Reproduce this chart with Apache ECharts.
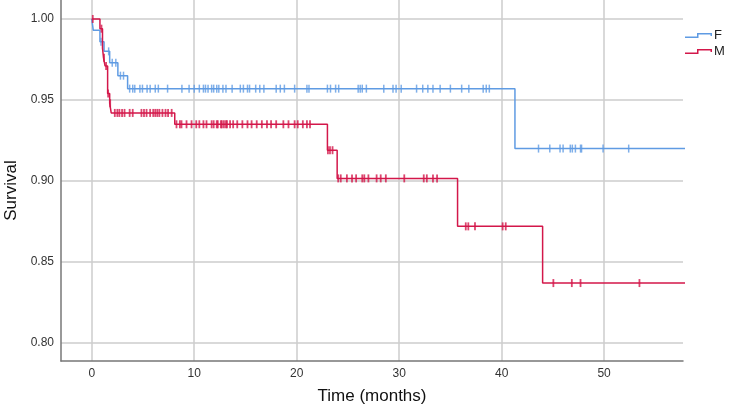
<!DOCTYPE html>
<html>
<head>
<meta charset="utf-8">
<script src="https://cdn.jsdelivr.net/npm/echarts@6/dist/echarts.min.js"></script>
<style>
html,body{margin:0;padding:0;background:#fff;}
#chart{width:731px;height:408px;}
</style>
</head>
<body>
<div id="chart"></div>
<script>
// ---- Data ----
var groupNames = ['F', 'M'];

// Step function of survival for F: times (months) and survival after each step
var fTimes = [0, 0.15, 0.8, 1.2, 1.75, 2.55, 3.5, 41.3, 58];
var fSurv  = [1.000, 0.993, 0.986, 0.980, 0.973, 0.965, 0.957, 0.920, 0.920];
// Censored observation times for F
var fCensor = [0.9, 1.65, 2.0, 2.35, 2.8, 3.1, 3.7, 4.0, 4.2, 4.7, 4.95, 5.4, 5.7, 6.2, 6.5, 7.4,
  8.8, 9.5, 10.0, 10.5, 10.9, 11.1, 11.35, 11.7, 11.9, 12.2, 12.4, 12.8, 13.1, 13.7, 14.5, 14.8,
  15.2, 15.4, 16.0, 16.4, 16.8, 18.0, 18.4, 18.8, 19.8, 21.0, 21.2, 23.0, 23.3, 23.8, 24.1,
  26.0, 26.2, 26.4, 26.8, 28.5, 29.4, 29.7, 30.2, 31.7, 32.3, 32.8, 33.3, 34.0, 35.0, 36.1,
  36.8, 38.2, 38.5, 38.8, 43.6, 44.7, 45.7, 46.0, 46.7, 46.9, 47.2, 47.7, 47.8, 49.9, 52.4];

// Step function of survival for M
var mTimes = [0, 0.8, 1.05, 1.15, 1.3, 1.55, 1.75, 1.9, 8.1, 23.0, 23.95, 35.7, 44.0, 58];
var mSurv  = [1.000, 0.994, 0.982, 0.976, 0.971, 0.954, 0.948, 0.942, 0.935, 0.919, 0.9016, 0.872, 0.837, 0.837];
// Censored observation times for M
var mCensor = [0.1, 0.95, 1.2, 1.4, 1.6, 1.8, 2.25, 2.5, 2.7, 2.96, 3.2, 3.7, 4.0, 4.85, 5.1, 5.35,
  5.7, 6.0, 6.2, 6.4, 6.6, 6.9, 7.2, 7.45, 7.8, 8.27, 8.6, 8.76, 9.25, 9.74, 10.2, 10.5, 10.9,
  11.2, 11.7, 11.9, 12.2, 12.3, 12.6, 12.7, 12.9, 13.1, 13.2, 13.5, 13.8, 14.2, 14.7, 15.2,
  15.6, 16.1, 16.6, 17.1, 17.5, 18.0, 18.7, 19.2, 19.8, 20.1, 20.6, 21.0, 21.3, 23.05, 23.25,
  23.5, 24.05, 24.3, 24.9, 25.4, 25.8, 26.4, 26.6, 27.0, 27.8, 28.2, 28.7, 30.5, 32.4, 32.7,
  33.3, 33.7, 36.5, 36.75, 37.4, 40.1, 40.4, 45.05, 46.85, 47.7, 53.45];

// Axis ticks
var xTicks = [0, 10, 20, 30, 40, 50];
var yTicks = [0.80, 0.85, 0.90, 0.95, 1.00];

// ---- Build series data ----
function pairs(ts, ss) { return ts.map(function (t, i) { return [t, ss[i]]; }); }
function survAt(ts, ss, t) {
  var v = ss[0];
  for (var i = 0; i < ts.length; i++) { if (ts[i] <= t) v = ss[i]; }
  return v;
}
function censorPts(cs, ts, ss) { return cs.map(function (t) { return [t, survAt(ts, ss, t)]; }); }

var blue = '#5f9be3';
var red = '#d3174a';
var font = 'Liberation Sans, Arial, sans-serif';

var stepIcon = 'path://M0,3.5 L12,3.5 L12,0 L27,0 L27,3 L25.5,3 L25.5,1.5 L13.5,1.5 L13.5,5 L0,5 Z';

var chart = echarts.init(document.getElementById('chart'), null, { renderer: 'canvas' });
chart.setOption({
  animation: false,
  backgroundColor: '#fff',
  color: [blue, red],
  grid: { left: 61, right: 48, top: 0, bottom: 47, containLabel: false, outerBoundsMode: 'none' },
  legend: {
    data: [
      { name: groupNames[0], icon: stepIcon, itemStyle: { color: blue, borderWidth: 0 } },
      { name: groupNames[1], icon: stepIcon, itemStyle: { color: red, borderWidth: 0 } }
    ],
    orient: 'vertical',
    left: 685, top: 29, padding: [0, 0, 0, 0],
    itemWidth: 27, itemHeight: 5, itemGap: 3,
    itemStyle: { borderWidth: 0 },
    lineStyle: { width: 0 },
    textStyle: { fontFamily: font, fontSize: 13, color: '#222', padding: [0, 0, 0, -3] }
  },
  xAxis: {
    type: 'value', min: -3, max: 57.7,
    name: 'Time (months)', nameLocation: 'middle', nameGap: 27,
    nameTextStyle: { fontFamily: font, fontSize: 17, color: '#111' },
    axisLine: { show: true, onZero: false, lineStyle: { color: '#777', width: 1.5 } },
    axisTick: { show: false, customValues: xTicks },
    axisLabel: { customValues: xTicks, fontFamily: font, fontSize: 12, color: '#333', margin: 7 },
    splitLine: { show: true, lineStyle: { color: '#cccccc', width: 1.5 } }
  },
  yAxis: {
    type: 'value', min: 0.7889, max: 1.0117,
    name: 'Survival', nameLocation: 'middle', nameGap: 39,
    nameTextStyle: { fontFamily: font, fontSize: 17, color: '#111', padding: [0, 0, 0, -20] },
    axisLine: { show: true, onZero: false, lineStyle: { color: '#777', width: 1.5 } },
    axisTick: { show: false, customValues: yTicks },
    axisLabel: { customValues: yTicks, fontFamily: font, fontSize: 12, color: '#333', margin: 7,
      formatter: function (v) { return v.toFixed(2); } },
    splitLine: { show: true, lineStyle: { color: '#cccccc', width: 1.5 } }
  },
  series: [
    { name: groupNames[0], type: 'line', step: 'end', data: pairs(fTimes, fSurv), showSymbol: false,
      color: blue, lineStyle: { color: blue, width: 1.5 }, itemStyle: { color: blue }, clip: true, z: 3 },
    { name: groupNames[1], type: 'line', step: 'end', data: pairs(mTimes, mSurv), showSymbol: false,
      color: red, lineStyle: { color: red, width: 1.5 }, itemStyle: { color: red }, clip: true, z: 4 },
    { name: groupNames[0] + ' censored', type: 'scatter', data: censorPts(fCensor, fTimes, fSurv),
      symbol: 'rect', symbolSize: [1.5, 8], itemStyle: { color: blue }, z: 3 },
    { name: groupNames[1] + ' censored', type: 'scatter', data: censorPts(mCensor, mTimes, mSurv),
      symbol: 'rect', symbolSize: [1.8, 8], itemStyle: { color: red }, z: 4 }
  ]
});
</script>
</body>
</html>
